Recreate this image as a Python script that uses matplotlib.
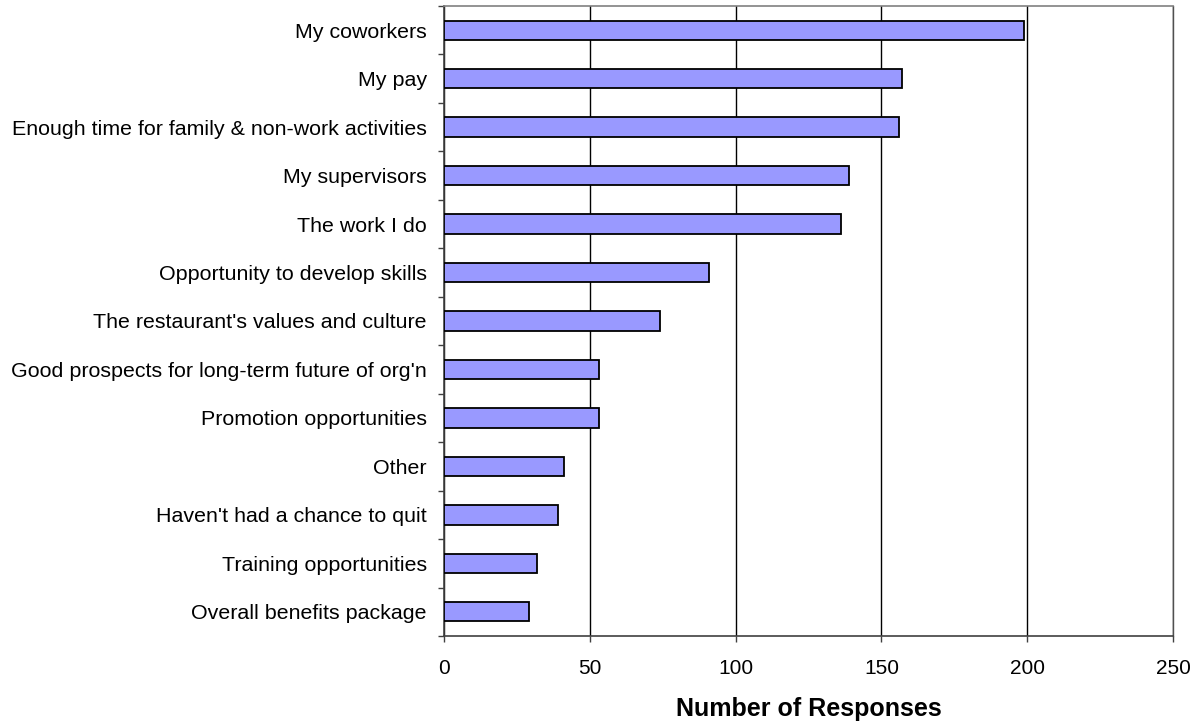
import numpy as np
import matplotlib
matplotlib.use("Agg")
import matplotlib.pyplot as plt
from matplotlib.ticker import FixedLocator

# Reasons for staying, top to bottom as shown
categories = [
    "My coworkers",
    "My pay",
    "Enough time for family & non-work activities",
    "My supervisors",
    "The work I do",
    "Opportunity to develop skills",
    "The restaurant's values and culture",
    "Good prospects for long-term future of org'n",
    "Promotion opportunities",
    "Other",
    "Haven't had a chance to quit",
    "Training opportunities",
    "Overall benefits package",
]
responses = [199, 157, 156, 139, 136, 91, 74, 53, 53, 41, 39, 32, 29]
x_ticks = [0, 50, 100, 150, 200, 250]

plt.rcParams['font.family'] = ['Liberation Sans', 'DejaVu Sans']

fig = plt.figure(figsize=(11.98, 7.23), dpi=100)
ax = fig.add_axes([444 / 1198, 1 - 636 / 723, (1173 - 444) / 1198, (636 - 6) / 723])

n = len(categories)
y = np.arange(n)[::-1]
ax.barh(y, responses, height=0.4, color="#9999FF", edgecolor="black",
        linewidth=1.3, zorder=3)

ax.set_xlim(0, 250)
ax.set_ylim(-0.5, n - 0.5)
ax.set_xticks(x_ticks)
ax.set_xticklabels([str(t) for t in x_ticks])
ax.set_yticks(y)
ax.set_yticklabels(categories)
ax.yaxis.set_minor_locator(FixedLocator(np.arange(n + 1) - 0.5))

# Excel-style ticks: category labels without marks, marks between categories
ax.tick_params(axis="y", which="major", length=0, pad=12.5, labelsize=15.4)
ax.tick_params(axis="y", which="minor", length=4, width=1, color="#404040",
               direction="out")
ax.tick_params(axis="x", which="major", length=4, width=1, color="#404040",
               direction="out", pad=12.5, labelsize=15)

ax.grid(axis="x", color="black", linewidth=1, zorder=0)

for side in ["left", "bottom"]:
    ax.spines[side].set_color("#404040")
    ax.spines[side].set_linewidth(1.2)
ax.spines["top"].set_color("#808080")
ax.spines["top"].set_linewidth(1.2)
ax.spines["right"].set_color("#505050")
ax.spines["right"].set_linewidth(1)

ax.set_xlabel("Number of Responses", fontsize=18, fontweight="bold", labelpad=14)

fig.savefig("out.png", dpi=100)
